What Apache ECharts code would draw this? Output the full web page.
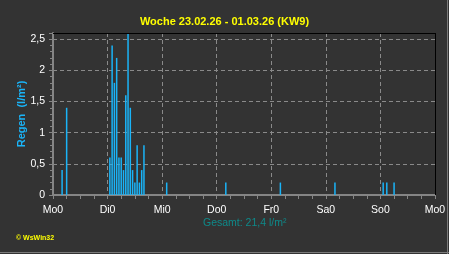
<!DOCTYPE html>
<html><head><meta charset="utf-8">
<script src="https://cdn.jsdelivr.net/npm/echarts@6/dist/echarts.min.js"></script>
<style>html,body{margin:0;padding:0;background:#333333;}#c{width:449px;height:254px;}</style>
</head><body><div id="c"></div>
<script>
const titleText = 'Woche 23.02.26 - 01.03.26 (KW9)';
const yAxisName = 'Regen  (l/m²)';
const totalText = 'Gesamt: 21,4 l/m²';
const copyrightText = '© WsWin32';
const tickLabels = ['Mo0', 'Di0', 'Mi0', 'Do0', 'Fr0', 'Sa0', 'So0', 'Mo0'];
// hour of week (0 = Monday 0:00) and rain per hour in l/m²
const rainHours = [4, 6, 25, 26, 27, 28, 29, 30, 31, 32, 33, 34, 35, 36, 37, 38, 39, 40, 50, 76, 100, 124, 145.2, 146.8, 150];
const rainValues = [0.4, 1.4, 0.6, 2.4, 1.8, 2.2, 0.6, 0.6, 0.4, 1.6, 2.6, 1.4, 0.4, 0.2, 0.8, 0.2, 0.4, 0.8, 0.2, 0.2, 0.2, 0.2, 0.2, 0.2, 0.2];

const barColor = '#1ab4f8';
const gridL = 53, gridR = 14, gridT = 33, gridB = 59;
const W = 449, H = 254;

const chart = echarts.init(document.getElementById('c'), null, {renderer: 'canvas'});
chart.setOption({
  backgroundColor: '#333333',
  animation: false,
  title: {
    text: titleText, left: 'center', top: 11,
    textStyle: {color: '#ffff00', fontSize: 11, fontWeight: 'bold', fontFamily: 'Liberation Sans'}
  },
  grid: {left: gridL, right: gridR, top: gridT, bottom: gridB, containLabel: false},
  xAxis: {
    type: 'value', min: 0, max: 168, interval: 24,
    axisLine: {lineStyle: {color: '#858585', width: 2}},
    axisTick: {show: true, length: 4, lineStyle: {color: '#858585', width: 1}},
    minorTick: {show: true, splitNumber: 4, length: 4, lineStyle: {color: '#858585', width: 1}},
    axisLabel: {
      color: '#ffffff', fontSize: 10.5, fontFamily: 'Liberation Sans', margin: 10,
      formatter: v => tickLabels[Math.round(v / 24)]
    },
    splitLine: {show: true, lineStyle: {color: '#8a8a8a', type: [4, 3], width: 1}}
  },
  yAxis: {
    type: 'value', min: 0, max: 2.6, interval: 0.5,
    name: yAxisName, nameLocation: 'middle', nameRotate: 90, nameGap: 26, nameMoveOverlap: false,
    nameTextStyle: {color: barColor, fontSize: 11, fontWeight: 'bold', fontFamily: 'Liberation Sans'},
    axisLine: {show: true, lineStyle: {color: '#858585', width: 2}},
    axisTick: {show: true, length: 4, lineStyle: {color: '#858585', width: 1}},
    minorTick: {show: true, splitNumber: 5, length: 3, lineStyle: {color: '#858585', width: 1}},
    axisLabel: {
      color: '#ffffff', fontSize: 10.5, fontFamily: 'Liberation Sans', margin: 8, showMaxLabel: false,
      formatter: v => String(v).replace('.', ',')
    },
    splitLine: {show: true, lineStyle: {color: '#8a8a8a', type: [4, 3], width: 1}}
  },
  series: [{
    type: 'bar', barWidth: 1.5,
    itemStyle: {color: barColor},
    data: rainHours.map((h, i) => [h, rainValues[i]])
  }],
  graphic: [
    {type: 'line', z: 100, shape: {x1: gridL, y1: gridT + 0.5, x2: W - gridR, y2: gridT + 0.5}, style: {stroke: '#000000', lineWidth: 1}},
    {type: 'line', z: 100, shape: {x1: W - gridR + 0.5, y1: gridT, x2: W - gridR + 0.5, y2: H - gridB}, style: {stroke: '#000000', lineWidth: 1}},
    {type: 'text', left: gridL + (W - gridL - gridR) / 2 - 41, top: 218,
     style: {text: totalText, fill: '#0e8a8a', fontSize: 10.5, fontFamily: 'Liberation Sans'}},
    {type: 'text', left: 16, top: 235,
     style: {text: copyrightText, fill: '#ffff00', fontSize: 7, fontWeight: 'bold', fontFamily: 'Liberation Sans'}},
    {type: 'line', z: 100, shape: {x1: 0, y1: H - 1.5, x2: W, y2: H - 1.5}, style: {stroke: '#7a7a7a', lineWidth: 1}},
    {type: 'line', z: 100, shape: {x1: W - 1.5, y1: 0, x2: W - 1.5, y2: H}, style: {stroke: '#7a7a7a', lineWidth: 1}}
  ]
});
</script></body></html>
